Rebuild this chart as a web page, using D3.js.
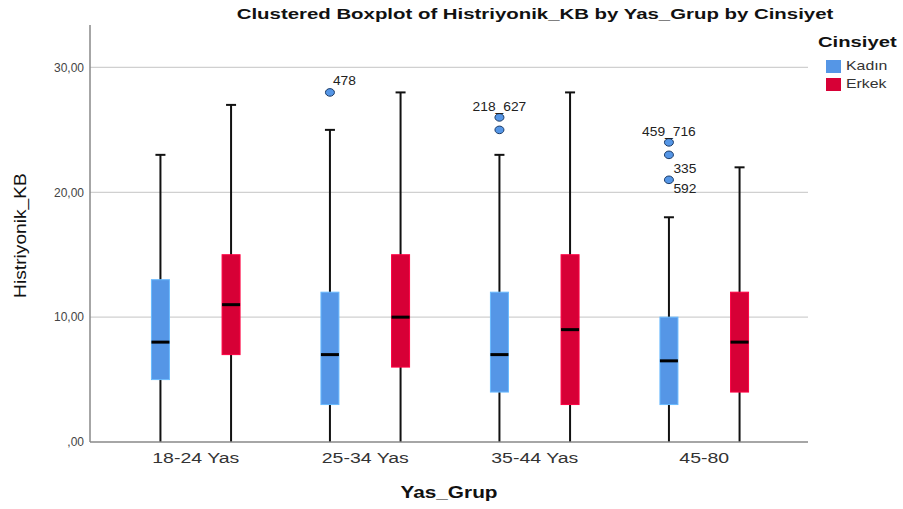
<!DOCTYPE html>
<meta charset="utf-8">
<style>
  body { margin: 0; background: #fff; font-family: "Liberation Sans", Arial, sans-serif; }
</style>
<body>
<div id="chart"></div>
<script src="https://d3js.org/d3.v7.min.js"></script>
<script>
const groups = ["18-24 Yas", "25-34 Yas", "35-44 Yas", "45-80"];
const genders = ["Kadın", "Erkek"];
const colors = ["#5596e6", "#d70036"];

// [group, gender, whiskerLow, q1, median, q3, whiskerHigh]
const boxes = [
  ["18-24 Yas", "Kadın", 0, 5, 8, 13, 23],
  ["18-24 Yas", "Erkek", 0, 7, 11, 15, 27],
  ["25-34 Yas", "Kadın", 0, 3, 7, 12, 25],
  ["25-34 Yas", "Erkek", 0, 6, 10, 15, 28],
  ["35-44 Yas", "Kadın", 0, 4, 7, 12, 23],
  ["35-44 Yas", "Erkek", 0, 3, 9, 15, 28],
  ["45-80", "Kadın", 0, 3, 6.5, 10, 18],
  ["45-80", "Erkek", 0, 4, 8, 12, 22]
];

// outliers: [group, gender, value]
const outliers = [
  ["25-34 Yas", "Kadın", 28],
  ["35-44 Yas", "Kadın", 26],
  ["35-44 Yas", "Kadın", 25],
  ["45-80", "Kadın", 24],
  ["45-80", "Kadın", 23],
  ["45-80", "Kadın", 21]
];

// outlier case labels: [group, gender, value, text, placement]
const outlierLabels = [
  ["25-34 Yas", "Kadın", 28, "478", "right"],
  ["35-44 Yas", "Kadın", 26, "218_627", "above"],
  ["45-80", "Kadın", 24, "459_716", "above"],
  ["45-80", "Kadın", 23, "335", "belowRight"],
  ["45-80", "Kadın", 21, "592", "belowRightFar"]
];

const yTicks = [0, 10, 20, 30];

const width = 903, height = 509;
const svg = d3.select("#chart").append("svg")
  .attr("width", width).attr("height", height);

const plot = { left: 90, right: 808, top: 25, bottom: 442 };

// the original render is a bit wider than tall, so stretch text horizontally
function stretch(sel, x, y, sx, rot) {
  sel.attr("x", 0).attr("y", 0)
    .attr("transform", `translate(${x},${y})${rot ? ` rotate(${rot})` : ""} scale(${sx},1)`);
  return sel;
}

const y = d3.scaleLinear().domain([0, 33.4]).range([plot.bottom, plot.top]);
const x = d3.scaleBand().domain(groups).range([111, 789]);
const xSub = d3.scaleBand().domain(genders).range([0, x.bandwidth()]).paddingInner(0.2).paddingOuter(0.3);
const color = d3.scaleOrdinal().domain(genders).range(colors);
const cx = (g, s) => x(g) + xSub(s) + xSub.bandwidth() / 2;
const boxW = 18;

// gridlines
svg.append("g")
  .selectAll("line")
  .data(yTicks.filter(d => d > 0))
  .join("line")
  .attr("x1", plot.left).attr("x2", plot.right)
  .attr("y1", d => y(d)).attr("y2", d => y(d))
  .attr("stroke", "#d0d0d0").attr("stroke-width", 1.2);

// y axis
const yAxis = svg.append("g")
  .attr("transform", `translate(${plot.left},0)`)
  .call(d3.axisLeft(y).tickValues(yTicks).tickSize(0).tickPadding(6)
    .tickFormat(d => d === 0 ? ",00" : d3.format(".2f")(d).replace(".", ",")));
yAxis.select(".domain").remove();
yAxis.selectAll("text").attr("font-size", 12).attr("fill", "#444")
  .attr("font-family", "Liberation Sans, Arial, sans-serif");

svg.append("line")
  .attr("x1", plot.left).attr("x2", plot.left)
  .attr("y1", plot.top).attr("y2", plot.bottom)
  .attr("stroke", "#888").attr("stroke-width", 1.5);

// x axis
const xAxis = svg.append("g")
  .attr("transform", `translate(0,${plot.bottom})`)
  .call(d3.axisBottom(x).tickSize(0).tickPadding(10));
xAxis.select(".domain").remove();
xAxis.selectAll("text").attr("font-size", 15).attr("fill", "#333")
  .attr("font-family", "Liberation Sans, Arial, sans-serif")
  .attr("transform", "scale(1.3,1)")
  .attr("x", 0);

// whiskers
const bx = svg.append("g");
bx.selectAll("line.whisker")
  .data(boxes)
  .join("line")
  .attr("class", "whisker")
  .attr("x1", d => cx(d[0], d[1])).attr("x2", d => cx(d[0], d[1]))
  .attr("y1", d => y(d[2])).attr("y2", d => y(d[6]))
  .attr("stroke", "#111").attr("stroke-width", 2);

bx.selectAll("line.cap")
  .data(boxes.filter(d => d[6] > d[5]))
  .join("line")
  .attr("class", "cap")
  .attr("x1", d => cx(d[0], d[1]) - 5).attr("x2", d => cx(d[0], d[1]) + 5)
  .attr("y1", d => y(d[6])).attr("y2", d => y(d[6]))
  .attr("stroke", "#111").attr("stroke-width", 2);

bx.selectAll("rect")
  .data(boxes)
  .join("rect")
  .attr("x", d => cx(d[0], d[1]) - boxW / 2)
  .attr("width", boxW)
  .attr("y", d => y(d[5]))
  .attr("height", d => y(d[3]) - y(d[5]))
  .attr("fill", d => color(d[1]))
  .attr("stroke", d => d3.color(color(d[1])).brighter(0.6))
  .attr("stroke-width", 1);

bx.selectAll("line.median")
  .data(boxes)
  .join("line")
  .attr("class", "median")
  .attr("x1", d => cx(d[0], d[1]) - boxW / 2).attr("x2", d => cx(d[0], d[1]) + boxW / 2)
  .attr("y1", d => y(d[4])).attr("y2", d => y(d[4]))
  .attr("stroke", "#000").attr("stroke-width", 3);

// bottom axis line drawn over whisker ends
svg.append("line")
  .attr("x1", plot.left).attr("x2", plot.right)
  .attr("y1", plot.bottom).attr("y2", plot.bottom)
  .attr("stroke", "#888").attr("stroke-width", 1.5);

// outliers
svg.append("g")
  .selectAll("ellipse")
  .data(outliers)
  .join("ellipse")
  .attr("cx", d => cx(d[0], d[1])).attr("cy", d => y(d[2]))
  .attr("rx", 4.5).attr("ry", 3.8)
  .attr("fill", color("Kadın"))
  .attr("stroke", "#1a3a66").attr("stroke-width", 1);

const place = {
  right: { dx: 3, dy: -11, anchor: "start" },
  above: { dx: 0, dy: -10, anchor: "middle" },
  belowRight: { dx: 16, dy: 15, anchor: "middle" },
  belowRightFar: { dx: 16, dy: 10, anchor: "middle" }
};
svg.append("g")
  .selectAll("text")
  .data(outlierLabels)
  .join("text")
  .each(function (d) {
    stretch(d3.select(this), cx(d[0], d[1]) + place[d[4]].dx, y(d[2]) + place[d[4]].dy, 1.15);
  })
  .attr("text-anchor", d => place[d[4]].anchor)
  .attr("dominant-baseline", "middle")
  .attr("font-size", 12).attr("fill", "#222")
  .text(d => d[3]);

// titles
stretch(svg.append("text"), 535, 19, 1.36)
  .attr("text-anchor", "middle")
  .attr("font-size", 15).attr("font-weight", "bold").attr("fill", "#111")
  .text("Clustered Boxplot of Histriyonik_KB by Yas_Grup by Cinsiyet");

stretch(svg.append("text"), 449, 498, 1.3)
  .attr("text-anchor", "middle")
  .attr("font-size", 16).attr("font-weight", "bold").attr("fill", "#111")
  .text("Yas_Grup");

stretch(svg.append("text"), 26, (plot.top + plot.bottom) / 2 + 2, 1.13, -90)
  .attr("text-anchor", "middle")
  .attr("font-size", 17).attr("fill", "#111")
  .text("Histriyonik_KB");

// legend
const lg = svg.append("g").attr("transform", "translate(818,0)");
stretch(lg.append("text"), 0, 47, 1.35)
  .attr("font-size", 15).attr("font-weight", "bold").attr("fill", "#111")
  .text("Cinsiyet");
const li = lg.selectAll("g.item").data(genders).join("g")
  .attr("class", "item")
  .attr("transform", (d, i) => `translate(8,${60 + i * 18})`);
li.append("rect").attr("width", 15).attr("height", 13).attr("fill", d => color(d));
li.append("text")
  .each(function () { stretch(d3.select(this), 20, 7, 1.22); })
  .attr("dominant-baseline", "middle")
  .attr("font-size", 13).attr("fill", "#333")
  .text(d => d);
</script>
</body>
